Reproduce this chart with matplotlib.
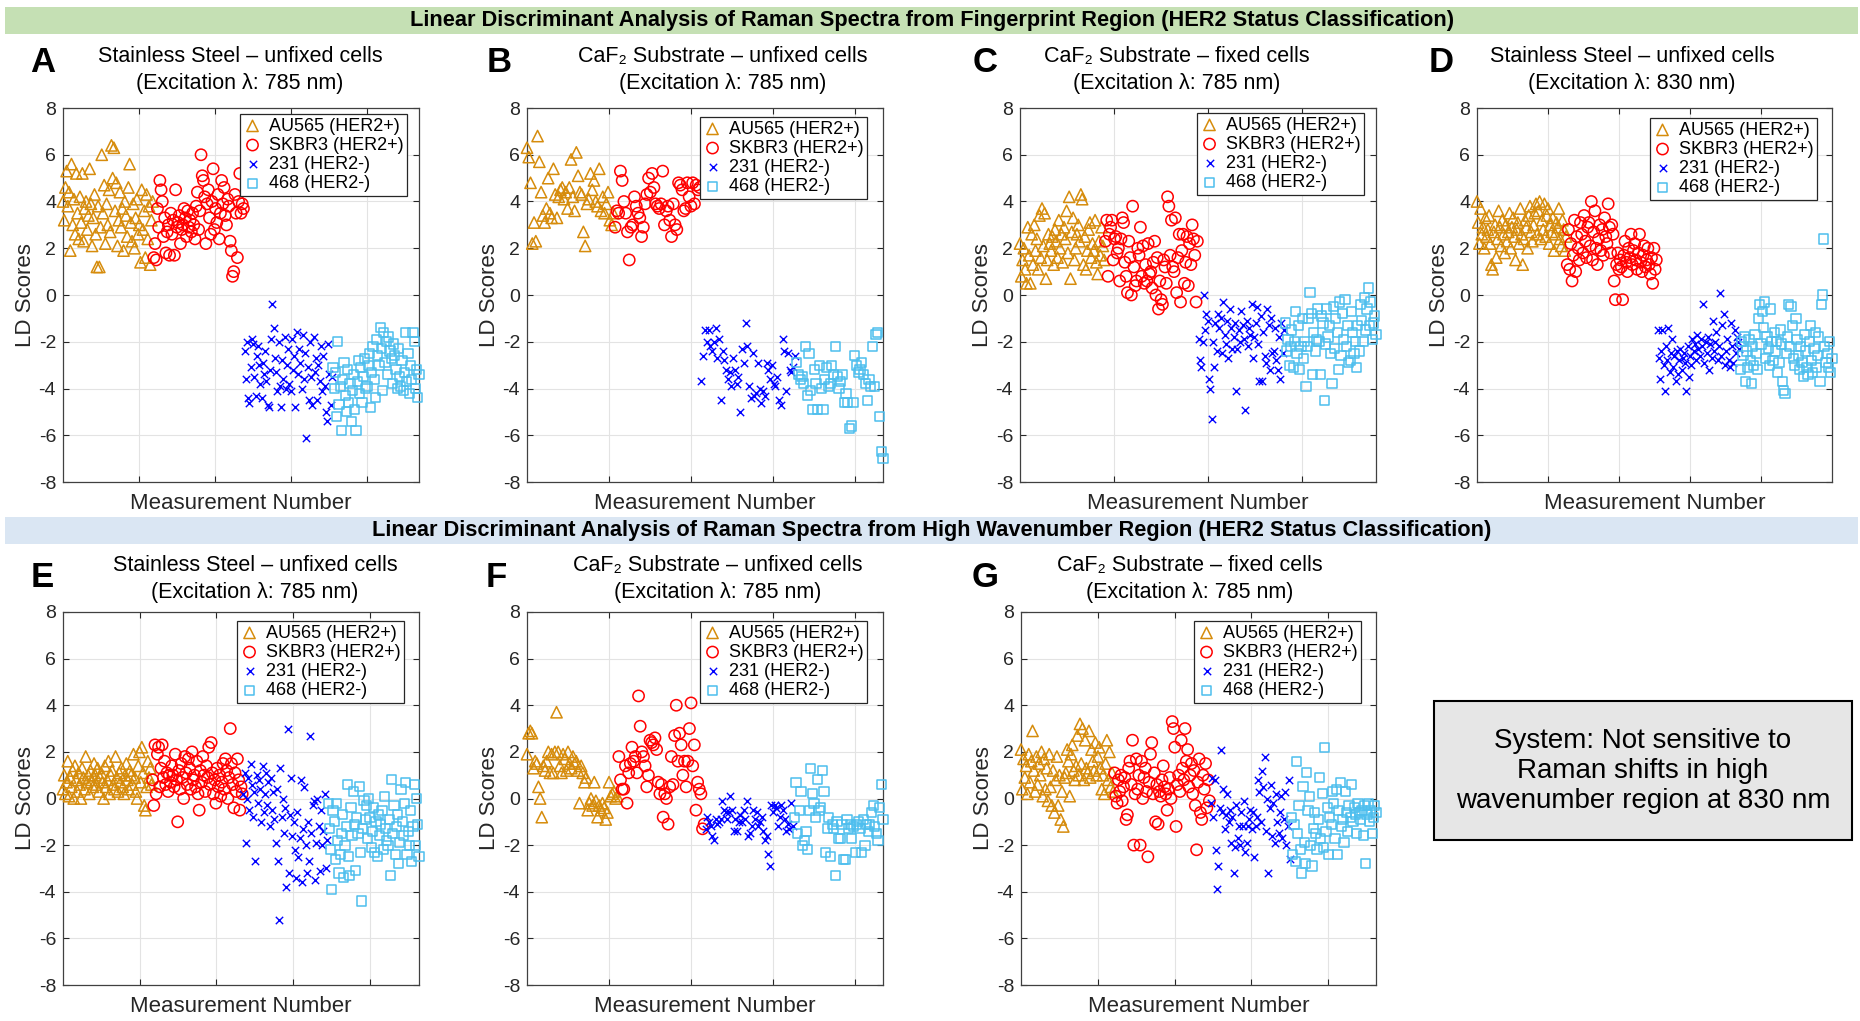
import numpy as np
import matplotlib.pyplot as plt
from matplotlib.patches import Rectangle

plt.rcParams['font.family'] = ['Liberation Sans', 'DejaVu Sans']
plt.rcParams['axes.unicode_minus'] = False

W, H = 1860, 1021

# A: fingerprint, stainless steel, unfixed, 785 nm
A_au565 = [4.0, 3.2, 4.6, 5.3, 3.8, 4.4, 1.9, 5.6, 3.0, 4.1, 2.6, 5.2, 3.5, 2.4, 4.2, 3.1, 5.2, 2.3, 3.7, 4.0,
           2.8, 3.4, 5.4, 3.9, 2.1, 3.3, 4.3, 2.6, 1.2, 3.8, 1.2, 2.9, 6.0, 3.5, 4.7, 2.2, 3.9, 3.0, 4.5, 2.7,
           6.4, 5.0, 6.3, 3.6, 4.8, 2.1, 3.2, 4.4, 2.9, 3.7, 1.9, 4.0, 3.4, 2.5, 4.6, 5.6, 3.1, 2.3, 3.9, 2.0,
           3.3, 4.1, 2.6, 3.0, 1.4, 4.5, 2.8, 3.6, 1.6, 4.3, 2.4, 3.8, 1.3, 3.2, 4.0]
A_skbr3 = [1.6, 2.2, 1.5, 3.7, 2.9, 4.9, 4.5, 4.0, 2.5, 3.3, 1.8, 2.7, 3.0, 1.7, 3.5, 2.6, 3.2, 1.7, 4.5, 2.9,
           3.1, 3.4, 2.2, 2.8, 3.0, 3.7, 3.3, 2.5, 3.6, 2.9, 3.2, 2.7, 3.5, 3.0, 2.4, 3.8, 4.4, 2.8, 3.6, 6.0,
           5.1, 4.9, 4.2, 2.2, 3.9, 4.5, 3.3, 2.6, 4.0, 5.4, 2.8, 3.7, 3.1, 4.3, 2.4, 3.5, 4.9, 3.9, 4.6, 3.4,
           3.0, 4.1, 3.8, 2.3, 1.9, 0.8, 1.0, 4.3, 3.5, 1.6, 4.0, 5.2, 3.5, 3.9, 3.7]
A_231 = [-2.4, -3.6, -2.0, -4.4, -4.6, -3.1, -1.9, -2.1, -3.5, -4.3, -2.6, -2.2, -3.0, -3.8, -4.4, -2.9, -3.4,
         -2.4, -3.7, -4.7, -4.8, -3.2, -1.9, -0.4, -1.4, -2.7, -3.3, -4.1, -2.0, -3.9, -4.8, -2.8, -3.6, -1.8,
         -4.0, -3.0, -2.3, -3.8, -4.1, -1.9, -3.2, -2.6, -4.8, -1.6, -3.4, -2.3, -2.9, -4.0, -1.7, -3.6, -2.5,
         -6.1, -3.1, -4.5, -2.0, -3.5, -4.7, -1.8, -3.3, -2.7, -4.5, -3.0, -3.7, -2.2, -4.1, -2.6, -3.9, -5.0,
         -5.4, -2.1, -3.4, -4.7, -3.5]
A_468 = [-3.1, -4.0, -3.3, -5.2, -2.0, -4.7, -3.9, -5.8, -3.6, -2.9, -4.3, -5.0, -3.2, -4.6, -3.8, -5.4, -4.1,
         -3.4, -4.9, -5.8, -3.7, -2.8, -4.2, -3.1, -4.6, -3.5, -2.7, -4.0, -3.9, -3.0, -2.5, -4.8, -3.3, -2.2,
         -3.6, -4.4, -1.9, -2.6, -3.0, -1.4, -2.3, -4.1, -1.6, -2.9, -2.0, -3.4, -1.8, -2.4, -2.7, -3.8, -2.1,
         -2.6, -3.2, -4.0, -2.3, -3.5, -3.9, -2.8, -4.1, -3.3, -1.6, -3.7, -2.5, -4.2, -3.0, -3.6, -1.6, -2.0,
         -4.0, -3.2, -4.4, -3.4]

# B: fingerprint, CaF2, unfixed, 785 nm
B_au565 = [6.3, 5.9, 4.8, 2.2, 3.1, 2.3, 6.8, 5.7, 4.4, 3.4, 3.1, 3.7, 5.0, 3.5, 3.3, 5.4, 4.3, 3.3, 4.2, 4.5,
           4.6, 4.1, 4.4, 3.7, 4.6, 5.8, 4.2, 3.6, 6.1, 5.1, 4.4, 4.3, 2.7, 2.1, 3.9, 4.1, 5.2, 4.5, 4.9, 4.0,
           3.8, 5.4, 3.6, 4.2, 3.5, 3.9, 4.4, 3.2, 3.0, 3.5]
B_skbr3 = [2.9, 3.6, 3.5, 5.3, 4.9, 4.0, 3.5, 2.7, 1.5, 2.9, 3.0, 4.2, 3.8, 3.5, 3.3, 2.5, 2.9, 3.9, 4.3, 5.0,
           4.4, 5.2, 4.6, 3.9, 3.8, 3.7, 3.9, 5.3, 3.0, 3.6, 3.8, 3.2, 2.5, 3.9, 3.0, 2.8, 4.8, 4.7, 4.5, 3.6,
           3.7, 4.8, 4.2, 3.8, 4.8, 3.9, 4.7, 4.5, 4.6]
B_231 = [-3.7, -2.6, -1.5, -2.0, -1.5, -2.2, -2.4, -2.0, -1.4, -2.7, -1.9, -4.5, -2.4, -2.8, -3.2, -3.6, -3.3,
         -3.9, -2.7, -3.2, -3.8, -3.5, -5.0, -2.3, -2.9, -1.2, -2.2, -3.9, -4.4, -2.5, -4.3, -4.2, -2.9, -4.0,
         -4.6, -4.1, -4.3, -2.9, -3.2, -3.6, -3.0, -3.8, -3.9, -3.5, -4.5, -4.7, -1.9, -2.4, -4.1, -2.5, -3.2,
         -3.3, -3.1, -2.6]
B_468 = [-2.9, -3.4, -3.6, -3.5, -3.8, -2.2, -4.3, -2.5, -4.1, -4.9, -3.2, -3.8, -4.9, -3.0, -4.0, -4.9, -3.6,
         -3.1, -3.9, -3.8, -3.0, -3.4, -2.2, -3.5, -4.0, -3.7, -3.4, -4.6, -4.2, -4.6, -5.7, -5.6, -4.6, -2.6,
         -3.0, -3.3, -3.2, -2.9, -3.4, -3.8, -4.5, -3.6, -3.9, -2.2, -3.9, -1.7, -1.6, -5.2, -6.7, -7.0]

# C: fingerprint, CaF2, fixed, 785 nm
C_au565 = [2.2, 0.8, 1.5, 2.0, 1.1, 0.5, 2.9, 1.7, 0.5, 2.6, 1.3, 3.0, 1.9, 2.4, 1.1, 3.4, 1.6, 3.7, 2.1, 3.5,
           0.7, 1.5, 2.6, 2.2, 1.9, 2.5, 1.3, 2.8, 2.3, 1.6, 3.2, 2.0, 2.6, 1.4, 2.9, 2.4, 3.6, 1.8, 4.2, 0.7,
           2.7, 3.3, 1.5, 2.0, 2.6, 3.0, 2.3, 4.3, 4.1, 1.3, 2.5, 1.1, 1.9, 2.8, 3.1, 1.6, 2.2, 1.9, 3.2, 1.4,
           0.9, 2.3, 1.7, 2.9, 2.1, 1.5]
C_skbr3 = [2.3, 3.2, 0.8, 2.6, 2.9, 3.2, 1.5, 2.4, 2.5, 1.8, 2.0, 0.6, 2.4, 3.3, 3.1, 1.4, 0.8, 0.1, 2.3, 1.6,
           0.0, 3.8, 1.2, 0.4, 0.6, 2.0, 1.7, 2.9, 0.8, 2.1, 0.5, 1.3, 0.6, 2.2, 0.9, 1.0, 0.3, 1.4, 2.3, 0.0,
           1.6, -0.6, 0.6, -0.2, -0.4, 1.5, 1.2, 0.5, 4.2, 3.8, 1.7, 3.2, 1.2, 1.0, 3.3, 0.1, 1.6, 2.6, -0.3,
           1.9, 2.6, 0.5, 1.4, 2.5, 0.4, 2.2, 1.3, 3.0, 2.4, 1.7, -0.3, 2.3]
C_231 = [-1.9, -2.8, -3.1, -2.0, 0.0, -1.5, -0.8, -1.1, -3.6, -4.0, -5.3, -2.0, -3.1, -1.2, -2.4, -0.8, -1.4,
         -1.0, -2.5, -0.3, -1.7, -2.1, -1.1, -2.7, -0.6, -1.4, -2.3, -1.8, -1.2, -4.1, -2.3, -1.5, -2.0, -0.7,
         -1.3, -1.9, -4.9, -1.1, -2.2, -1.4, -1.7, -0.4, -2.7, -1.8, -1.2, -0.5, -2.1, -3.7, -0.9, -3.7, -1.6,
         -2.6, -2.9, -0.6, -1.3, -3.2, -1.0, -2.5, -2.4, -1.4, -2.8, -3.2, -1.8, -3.6, -1.2, -2.5, -1.5]
C_468 = [-1.2, -2.4, -1.9, -3.0, -2.2, -1.5, -3.1, -2.0, -0.7, -2.5, -1.3, -3.2, -2.2, -1.0, -2.7, -2.0, -3.9,
         -2.2, -1.0, 0.1, -0.8, -3.4, -1.6, -2.4, -1.9, -0.6, -2.0, -3.4, -0.9, -1.2, -4.5, -2.1, -0.6, -1.8,
         -1.3, -2.5, -3.8, -0.5, -2.3, -1.0, -1.6, -3.2, -0.3, -2.6, -0.8, -1.9, -0.2, -2.2, -1.3, -2.9, -2.8,
         -0.7, -1.6, -2.5, -2.0, -3.1, -1.3, -2.4, -0.4, -1.1, -2.0, -0.1, -1.5, -0.6, 0.3, -1.3, -0.3, -1.9,
         -1.2, -0.9, -1.7]

# D: fingerprint, stainless steel, unfixed, 830 nm
D_au565 = [4.0, 3.1, 2.2, 3.7, 2.6, 2.9, 2.0, 3.3, 2.5, 2.8, 3.4, 2.2, 1.3, 1.1, 2.7, 3.0, 1.6, 2.4, 3.6, 2.9,
           2.1, 3.2, 2.6, 1.8, 3.0, 2.3, 2.7, 3.5, 2.0, 2.9, 3.3, 2.5, 1.5, 2.8, 3.1, 2.2, 3.7, 2.6, 1.3, 2.4,
           3.2, 2.9, 2.0, 3.4, 3.8, 2.7, 2.3, 3.0, 3.5, 3.9, 2.6, 3.6, 4.0, 2.4, 3.2, 2.8, 3.9, 2.5, 3.4, 3.7,
           2.2, 3.0, 2.7, 3.3, 1.9, 2.6, 3.1, 2.9, 3.7, 2.4, 2.1, 3.2, 2.8, 1.9, 2.5]
D_skbr3 = [1.3, 2.8, 1.1, 2.2, 0.6, 1.7, 3.2, 1.0, 2.5, 2.0, 1.5, 3.1, 2.6, 1.8, 3.4, 2.3, 1.6, 2.9, 3.1, 2.1,
           4.0, 1.5, 2.7, 3.6, 2.0, 1.3, 2.4, 3.0, 1.9, 2.8, 1.7, 3.3, 2.5, 2.2, 3.9, 2.9, 1.8, 3.0, 2.6, 0.6,
           -0.2, 1.3, 1.8, 1.1, 1.5, 1.2, -0.2, 1.7, 2.3, 1.4, 1.0, 2.0, 1.6, 2.6, 1.3, 1.9, 2.2, 1.5, 1.1,
           1.8, 2.6, 1.4, 1.0, 1.7, 2.1, 1.2, 1.5, 2.0, 1.3, 0.9, 1.6, 0.5, 2.0, 1.1, 1.5]
D_231 = [-1.5, -2.7, -3.6, -2.4, -1.5, -3.0, -4.1, -2.2, -2.8, -1.4, -3.3, -2.5, -1.9, -3.1, -2.6, -3.7, -2.4,
         -3.4, -2.8, -2.3, -3.2, -2.7, -2.5, -2.9, -4.1, -2.2, -3.5, -2.6, -3.0, -1.9, -2.4, -2.1, -2.8, -1.7,
         -2.3, -2.6, -1.9, -2.2, -0.4, -2.9, -2.0, -2.5, -1.8, -3.2, -2.1, -2.7, -1.1, -2.4, -2.0, -1.6, -2.8,
         -2.2, 0.1, -2.6, -1.3, -0.8, -3.0, -2.4, -1.9, -2.8, -3.1, -1.2, -2.2, -2.9, -1.5, -2.5, -1.8, -2.0,
         -2.3]
D_468 = [-3.2, -2.0, -2.6, -1.8, -3.7, -2.4, -3.1, -1.9, -2.8, -3.8, -2.2, -3.0, -1.7, -2.5, -3.2, -1.0, -0.4,
         -2.1, -0.7, -1.4, -0.3, -2.7, -1.8, -2.3, -3.0, -0.6, -2.0, -2.8, -1.6, -2.4, -2.0, -3.3, -2.9, -1.5,
         -2.1, -3.7, -4.1, -4.2, -2.5, -1.8, -0.4, -2.2, -0.5, -1.3, -2.7, -3.0, -1.0, -1.9, -2.6, -3.2, -2.2,
         -2.9, -3.5, -1.7, -2.4, -3.1, -3.4, -2.0, -1.3, -2.8, -3.3, -2.3, -1.6, -3.1, -2.6, -1.8, -3.7, -0.4,
         0.0, 2.4, -2.2, -2.9, -2.5, -3.1, -2.0, -3.3, -2.7]

# E: high wavenumber, stainless steel, unfixed, 785 nm
E_au565 = [0.4, 1.0, 0.2, 0.7, 1.6, 0.1, 0.9, 0.5, 1.2, 0.0, 1.4, 0.8, 0.3, 1.1, 0.6, 0.0, 1.3, 0.9, 0.4, 1.8,
           0.7, 1.0, 0.2, 1.2, 0.8, 0.5, 1.5, 1.0, 0.6, 1.3, 0.3, 0.9, 1.1, 0.7, 0.0, 1.4, 0.5, 0.8, 1.6, 0.2,
           1.0, 1.2, 0.6, 0.4, 1.8, 0.9, 0.3, 1.1, 0.7, 1.3, 0.5, 0.2, 1.0, 1.5, 0.8, 0.4, 1.2, 1.0, 0.6, 1.9,
           0.9, 0.3, 0.0, 1.4, 2.0, 0.7, 2.2, 1.1, -0.3, -0.5, 0.5, 1.6, 0.9, 1.3, 0.6]
E_skbr3 = [0.8, -0.3, 2.3, 0.2, 1.9, 2.2, 0.5, 1.3, 2.3, 0.9, 1.6, 0.6, 1.1, 0.3, 1.0, 0.7, 1.4, 1.0, 0.5, 1.9,
           0.8, -1.0, 1.2, 0.4, 1.5, 0.9, 0.0, 1.8, 1.1, 0.6, 1.7, 1.3, 0.4, 2.0, 0.8, 1.0, 0.5, 1.6, 0.2, -0.5,
           1.2, 0.7, 1.8, 1.0, 0.3, 1.4, 0.9, 2.2, 0.6, 2.4, 1.1, 0.2, 0.8, -0.2, 1.3, 0.5, 1.0, 0.1, 0.7, 1.5,
           0.4, 1.7, 1.2, 0.0, 0.9, 3.0, 1.5, 0.6, -0.4, 1.1, 0.3, 1.7, 0.8, -0.5, 0.5, 0.2]
E_231 = [0.2, 1.1, -1.9, 0.0, 0.9, -0.5, 1.5, 0.6, -0.8, 0.3, -2.7, 1.0, -0.2, 0.8, 0.4, -1.0, 1.4, -0.6, 0.2,
         1.1, -0.3, 0.7, -1.2, 0.9, -0.5, 0.3, -0.9, -1.9, 0.4, -2.7, -5.2, 1.3, -0.8, 0.0, -1.5, -0.4, -3.8,
         3.0, -3.2, -0.7, 0.9, -1.6, -1.0, -2.2, -3.4, -0.6, -2.5, -1.7, 0.8, -3.6, -1.3, 0.5, -2.0, -3.2, -1.0,
         -2.7, 2.7, -1.5, -0.3, -0.1, -3.5, -1.9, 0.0, -1.2, -3.1, -0.5, -2.0, -1.4, 0.2, -3.0, -1.8]
E_468 = [-0.2, -1.3, -2.2, -3.9, -0.5, -1.0, -2.6, -0.2, -1.8, -3.2, -2.4, -1.5, -0.7, -3.4, -2.0, -1.2, 0.6,
         -2.5, -3.3, -0.4, -1.6, 0.3, -1.1, -3.1, -0.8, -1.5, 0.5, -2.3, -4.4, -1.3, -0.1, -0.9, -0.3, -1.7,
         0.0, -0.8, -2.1, -1.4, -0.4, -2.3, -1.0, -2.5, -0.7, -1.6, -1.1, -0.5, -2.2, 0.1, -1.3, -1.8, -2.0,
         -0.9, -3.3, 0.8, -1.5, -0.3, -2.4, -1.2, -0.7, -2.8, -1.9, 0.4, -1.0, -1.6, -0.2, 0.7, -2.4, -1.4,
         -2.0, -0.5, -2.7, -1.2, 0.6, -2.0, 0.0, -1.1, -2.5]

# F: high wavenumber, CaF2, unfixed, 785 nm
F_au565 = [1.9, 2.8, 2.9, 2.8, 1.3, 1.6, 1.5, 0.5, 0.0, -0.8, 1.4, 1.2, 1.6, 2.0, 1.1, 1.9, 1.1, 2.0, 3.7, 2.0,
           1.4, 1.1, 1.9, 1.7, 1.2, 2.0, 1.5, 1.3, 1.8, 1.5, 1.6, 1.2, -0.2, 1.4, 1.1, 0.7, 0.9, -0.5, -0.2,
           0.0, -0.3, 0.7, -0.1, -0.8, -0.3, -0.5, -0.2, -0.4, -0.9, -0.6, 0.7, 0.1, 0.2, 0.3, 0.0, 0.1]
F_skbr3 = [1.8, 0.8, 0.4, 0.4, 1.4, -0.2, 1.1, 1.5, 2.2, 1.6, 1.8, 1.1, 4.4, 3.1, 2.0, 1.8, 1.4, 0.5, 1.0, 2.5,
           2.4, 2.3, 2.6, 2.1, 0.7, 0.2, 0.6, -0.8, 0.2, 0.0, -1.1, 0.5, 1.8, 0.6, 2.7, 4.0, 1.6, 2.8, 2.3, 1.0,
           1.6, 0.5, 1.6, 3.0, 4.1, 1.4, 2.3, -0.5, 0.7, 0.4, 0.2, -1.3, -1.1]
F_231 = [-1.3, -0.8, -1.0, -1.2, -1.6, -1.8, -0.9, -1.1, -1.0, -0.9, -0.1, -0.5, -0.6, -0.9, -0.6, 0.1, -0.5,
         -1.4, -0.9, -1.4, -1.0, -0.7, -1.0, -0.5, -0.9, -0.1, -1.6, -1.5, -1.2, -0.5, -0.9, -0.6, -1.2, -1.0,
         -0.8, -1.4, -1.8, -1.6, -2.4, -2.9, -0.3, -0.6, -0.3, -0.4, -1.2, -0.8, -0.3, -0.5, -0.9, -1.4, -1.1,
         -1.3, -0.2, -1.2]
F_468 = [-0.8, 0.7, -1.5, -0.5, 0.3, -2.0, -1.8, -1.4, -2.2, -0.5, 1.3, 0.2, -0.2, -0.8, 0.8, -0.5, -0.4, 1.2,
         0.3, -2.3, -1.3, -0.8, -2.5, -1.1, -1.3, -3.3, -1.0, -1.7, -1.7, -1.1, -2.6, -2.6, -0.9, -1.3, -1.1,
         -1.7, -1.2, -2.3, -1.1, -1.0, -1.3, -2.3, -0.9, -2.0, -1.1, -1.4, -1.1, -0.6, -0.3, -1.2, -1.5, -1.8,
         -0.4, 0.6, -0.9]

# G: high wavenumber, CaF2, fixed, 785 nm
G_au565 = [2.1, 0.4, 1.7, 0.9, 1.4, 0.2, 1.9, 0.7, 1.6, 2.9, 1.2, 0.3, 1.8, 0.6, 1.5, 1.0, 2.0, 0.1, 1.7, 0.4,
           1.3, -0.1, 1.9, 0.5, -0.3, 1.2, -0.6, 0.8, 1.8, -0.3, 1.0, -0.9, 0.3, -1.2, 0.9, 1.1, 2.1, 1.6, 0.1,
           1.9, 2.3, 1.2, 0.8, 1.4, 2.7, 1.0, 3.2, 1.5, 3.0, 0.8, 2.5, 1.3, 1.1, 2.9, 0.9, 2.1, 1.6, 1.2, 2.4,
           1.0, 1.8, 2.2, 1.3, 0.4, 1.0, 0.2, 1.5, 2.5, 0.8, 2.0, 0.5, 1.1, 0.3]
G_skbr3 = [1.1, 0.1, -0.2, 0.8, 0.3, 1.0, -0.1, 0.5, 0.9, -0.9, -0.7, 1.3, 1.6, 0.6, 2.5, -2.0, 0.2, 1.7, 0.4,
           1.0, -2.0, 1.6, 0.0, 0.9, 1.3, 0.3, -2.5, 0.7, 1.9, 2.4, 0.2, 1.1, -1.0, 0.6, -1.1, 0.3, 0.1, 0.8,
           1.4, 0.5, 0.2, -0.5, 0.4, 0.9, 0.0, 3.3, 3.0, 2.2, -1.2, 0.6, 1.0, 0.3, 2.5, 1.3, 0.8, 3.0, 1.6, 2.1,
           0.5, 1.0, 1.5, 0.2, 1.2, -0.3, -2.2, 0.7, 1.7, -0.6, -0.9, 1.0, 0.4, 1.5, -0.4, 0.8, -0.1]
G_231 = [-0.2, 0.9, -0.8, 0.8, -2.2, -3.9, -2.9, -0.4, 2.1, -0.6, 0.4, -1.3, -0.7, 0.2, -1.0, -0.5, -1.9, -0.8,
         -3.2, -2.1, -0.3, -1.7, -1.2, -2.0, -0.6, -1.2, -0.1, -2.3, -1.9, -1.2, -0.9, -0.5, -1.3, -0.6, -2.5,
         -1.2, -0.8, 0.8, 0.3, -1.0, 1.2, 0.5, 1.8, -1.4, 0.0, -3.2, -0.4, 0.6, -1.6, -0.2, -1.9, 0.2, -1.0,
         -1.5, -0.6, 0.1, -1.7, -0.9, 0.3, -2.0, -1.2, 0.8, -2.6]
G_468 = [-0.8, -2.4, -1.1, -2.7, 1.6, -1.5, -0.3, -2.2, -3.2, 0.5, -1.9, -2.8, 1.1, -0.5, 0.1, -2.0, -2.9, -1.3,
         -0.6, -1.5, -2.2, -0.9, 0.9, -1.7, 0.2, -2.1, 2.2, -1.4, -0.4, -2.4, -0.8, -1.1, 0.3, -0.2, -1.7, 0.4,
         -2.4, -0.5, 0.7, -1.2, -0.9, -1.9, 0.3, -0.6, -1.4, -0.3, -0.8, 0.6, -1.0, -0.4, -0.7, -1.5, -0.2,
         -0.6, -0.9, -0.5, -1.6, -0.3, -2.8, -0.7, -0.2, -1.0, -0.5, -1.5, -0.8, -0.3, -0.6]

series_labels = ['AU565 (HER2+)', 'SKBR3 (HER2+)', '231 (HER2-)', '468 (HER2-)']
series_colors = ['#D68C0C', '#FF0000', '#0000FF', '#4DBEEE']
series_markers = ['^', 'o', 'x', 's']
series_sizes = [66, 66, 28, 44]

panel_letters = ['A', 'B', 'C', 'D', 'E', 'F', 'G']
panel_titles = ['Stainless Steel – unfixed cells\n(Excitation λ: 785 nm)',
                'CaF₂ Substrate – unfixed cells\n(Excitation λ: 785 nm)',
                'CaF₂ Substrate – fixed cells\n(Excitation λ: 785 nm)',
                'Stainless Steel – unfixed cells\n(Excitation λ: 830 nm)',
                'Stainless Steel – unfixed cells\n(Excitation λ: 785 nm)',
                'CaF₂ Substrate – unfixed cells\n(Excitation λ: 785 nm)',
                'CaF₂ Substrate – fixed cells\n(Excitation λ: 785 nm)']
panel_data = [
    [A_au565, A_skbr3, A_231, A_468],
    [B_au565, B_skbr3, B_231, B_468],
    [C_au565, C_skbr3, C_231, C_468],
    [D_au565, D_skbr3, D_231, D_468],
    [E_au565, E_skbr3, E_231, E_468],
    [F_au565, F_skbr3, F_231, F_468],
    [G_au565, G_skbr3, G_231, G_468],
]

# layout in pixels: axes box (x0, y0, x1, y1), title centre, letter centre, grid step as fraction of width
axes_px = [(63, 108, 419, 482), (527, 108, 883, 482), (1020, 108, 1376, 482), (1477, 108, 1832, 482),
           (63, 612, 419, 985), (527, 612, 883, 985), (1021, 612, 1376, 985)]
title_px = [(240, 70), (723, 70), (1177, 70), (1632, 70), (255, 579), (718, 579), (1190, 579)]
letter_px = [(43, 63), (499, 63), (985, 63), (1441, 63), (42, 577), (496, 577), (985, 577)]
grid_frac = [0.2135, 0.2303, 0.264, 0.2003, 0.2155, 0.2303, 0.2163]
legend_gap = [(12, 6), (16, 9), (12, 5), (15, 10), (15, 9), (16, 9), (15, 9)]


def fx(x):
    return x / W


def fy(y):
    return 1 - y / H


fig = plt.figure(figsize=(W / 100, H / 100), dpi=100)

# section banners
for (y0, y1, col, txt) in [(7, 34, '#C5E0B4', 'Linear Discriminant Analysis of Raman Spectra from Fingerprint Region (HER2 Status Classification)'),
                           (517, 544, '#DAE6F3', 'Linear Discriminant Analysis of Raman Spectra from High Wavenumber Region (HER2 Status Classification)')]:
    fig.patches.append(Rectangle((fx(5), fy(y1)), fx(1853), (y1 - y0) / H, transform=fig.transFigure,
                                 facecolor=col, edgecolor='none', zorder=0))
    fig.text(fx(932), fy((y0 + y1) / 2), txt, ha='center', va='center', fontsize=15.7, fontweight='bold')

for i in range(7):
    x0, y0, x1, y1 = axes_px[i]
    ax = fig.add_axes([fx(x0), fy(y1), (x1 - x0) / W, (y1 - y0) / H])
    start = 1
    for k in range(4):
        vals = panel_data[i][k]
        xs = np.arange(start, start + len(vals))
        start += len(vals)
        if series_markers[k] == 'x':
            ax.scatter(xs, vals, s=series_sizes[k], marker='x', color=series_colors[k], linewidths=1.0,
                       label=series_labels[k], clip_on=False, zorder=3)
        else:
            ax.scatter(xs, vals, s=series_sizes[k], marker=series_markers[k], facecolors='none',
                       edgecolors=series_colors[k], linewidths=1.1, label=series_labels[k], clip_on=False,
                       zorder=3)
    n = start - 1
    ax.set_xlim(1, n)
    ax.set_ylim(-8, 8)
    step = grid_frac[i] * (n - 1)
    ax.set_xticks([1 + step * j for j in range(1, 6) if 1 + step * j < n])
    ax.set_xticklabels([])
    ax.set_yticks(range(-8, 9, 2))
    ax.tick_params(direction='in', length=4, width=0.8, top=True, right=True, labelsize=14,
                   colors='#262626', pad=5)
    ax.grid(True, color='#E3E3E3', linewidth=0.8)
    ax.set_axisbelow(True)
    for sp in ax.spines.values():
        sp.set_color('#404040')
        sp.set_linewidth(0.9)
    ax.set_xlabel('Measurement Number', fontsize=16, color='#262626', labelpad=3)
    ax.set_ylabel('LD Scores', fontsize=16, color='#262626', labelpad=2)
    gx, gy = legend_gap[i]
    leg = ax.legend(loc='upper right', bbox_to_anchor=(1 - gx / (x1 - x0), 1 - gy / (y1 - y0)),
                    borderaxespad=0, prop={'size': 13}, frameon=True, fancybox=False, framealpha=1,
                    edgecolor='#262626', handlelength=1.0, handletextpad=0.4, labelspacing=0.12,
                    borderpad=0.2, scatterpoints=1)
    leg.get_frame().set_linewidth(0.9)
    leg.set_zorder(5)
    fig.text(fx(title_px[i][0]), fy(title_px[i][1]), panel_titles[i], ha='center', va='center',
             fontsize=15.5, linespacing=1.33)
    fig.text(fx(letter_px[i][0]), fy(letter_px[i][1]), panel_letters[i], ha='center', va='center',
             fontsize=25, fontweight='bold')

# note box in place of the missing 830 nm high-wavenumber panel
fig.patches.append(Rectangle((fx(1434), fy(840)), (1852 - 1434) / W, (840 - 701) / H, transform=fig.transFigure,
                             facecolor='#E6E6E6', edgecolor='black', linewidth=1.5))
fig.text(fx(1643), fy(770.5), 'System: Not sensitive to\nRaman shifts in high\nwavenumber region at 830 nm',
         ha='center', va='center', fontsize=20, linespacing=1.2)

fig.savefig('out.png', dpi=100)
